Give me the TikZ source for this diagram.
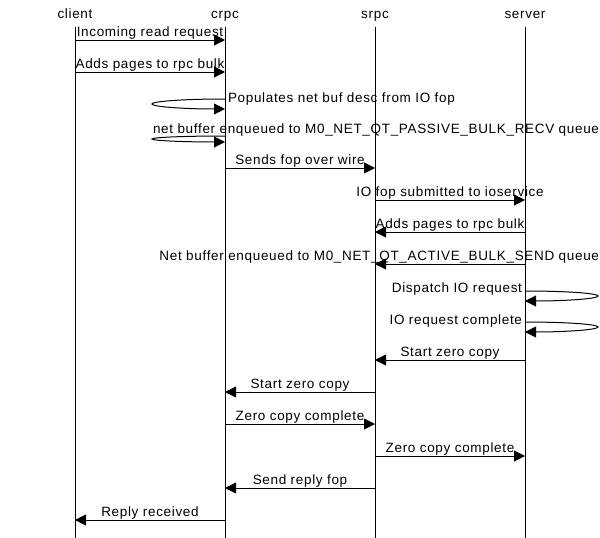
\documentclass[tikz,border=0pt]{standalone}
\usepackage{fontspec}
\setmainfont{Liberation Sans}[LetterSpace=5]
\usetikzlibrary{arrows.meta}

\tikzset{
  life/.style={draw=black, line width=1pt},
  msg/.style={draw=black, line width=1pt, -{Triangle[length=11pt, width=11pt]}},
  lbl/.style={anchor=base, font=\fontsize{13.5}{16}\selectfont},
  msglabel/.style={lbl, yshift=4pt},
}

\begin{document}
\begin{tikzpicture}[y=1pt, x=1pt, yscale=-1, inner sep=0pt, outer sep=0pt]
  \useasboundingbox (0,0) rectangle (600,538);

  % lifelines and the rows of messages on them
  \foreach \n/\x in {client/75, crpc/225, srpc/375, server/525}{
    \node[lbl] (\n) at (\x,18) {\n};
    \coordinate (\n-top) at (\x,27);
    \coordinate (\n-bot) at (\x,538);
    \path[life] (\n-top) -- (\n-bot);
    \foreach \r/\y in {1/40, 2/72, 3/99, 4/136, 5/168, 6/200, 7/232, 8/264,
        9/291, 10/322, 11/360, 12/392, 13/424, 14/456, 15/488, 16/520}
      \coordinate (\n-\r) at (\x,\y);
  }

  \draw[msg] (client-1) -- node[msglabel] (m1) {Incoming read request} (crpc-1);
  \draw[msg] (client-2) -- node[msglabel] (m2) {Adds pages to rpc bulk} (crpc-2);

  % self messages on crpc
  \draw[msg] (crpc-3) arc[start angle=-90, end angle=-270, x radius=73, y radius=5];
  \node[lbl, anchor=base west] (m3) at (228,102) {Populates net buf desc from IO fop};
  \draw[msg] (crpc-4) arc[start angle=-90, end angle=-270, x radius=73, y radius=3];
  \node[lbl, anchor=base east] (m4) at (599,133)
    {net buffer enqueued to M0\_NET\_QT\_PASSIVE\_BULK\_RECV queue};

  \draw[msg] (crpc-5) -- node[msglabel] (m5) {Sends fop over wire} (srpc-5);
  \draw[msg] (srpc-6) -- node[msglabel] (m6) {IO fop submitted to ioservice} (server-6);
  \draw[msg] (server-7) -- node[msglabel] (m7) {Adds pages to rpc bulk} (srpc-7);
  \draw[msg] (server-8) -- (srpc-8);
  \node[lbl, anchor=base east] (m8) at (599,260)
    {Net buffer enqueued to M0\_NET\_QT\_ACTIVE\_BULK\_SEND queue};

  % self messages on server
  \draw[msg] (server-9) arc[start angle=-90, end angle=90, x radius=73, y radius=5];
  \node[lbl, anchor=base east] (m9) at (522,292) {Dispatch IO request};
  \draw[msg] (server-10) arc[start angle=-90, end angle=90, x radius=73, y radius=5];
  \node[lbl, anchor=base east] (m10) at (522,324) {IO request complete};

  \draw[msg] (server-11) -- node[msglabel] (m11) {Start zero copy} (srpc-11);
  \draw[msg] (srpc-12) -- node[msglabel] (m12) {Start zero copy} (crpc-12);
  \draw[msg] (crpc-13) -- node[msglabel] (m13) {Zero copy complete} (srpc-13);
  \draw[msg] (srpc-14) -- node[msglabel] (m14) {Zero copy complete} (server-14);
  \draw[msg] (srpc-15) -- node[msglabel] (m15) {Send reply fop} (crpc-15);
  \draw[msg] (crpc-16) -- node[msglabel] (m16) {Reply received} (client-16);

\end{tikzpicture}
\end{document}
